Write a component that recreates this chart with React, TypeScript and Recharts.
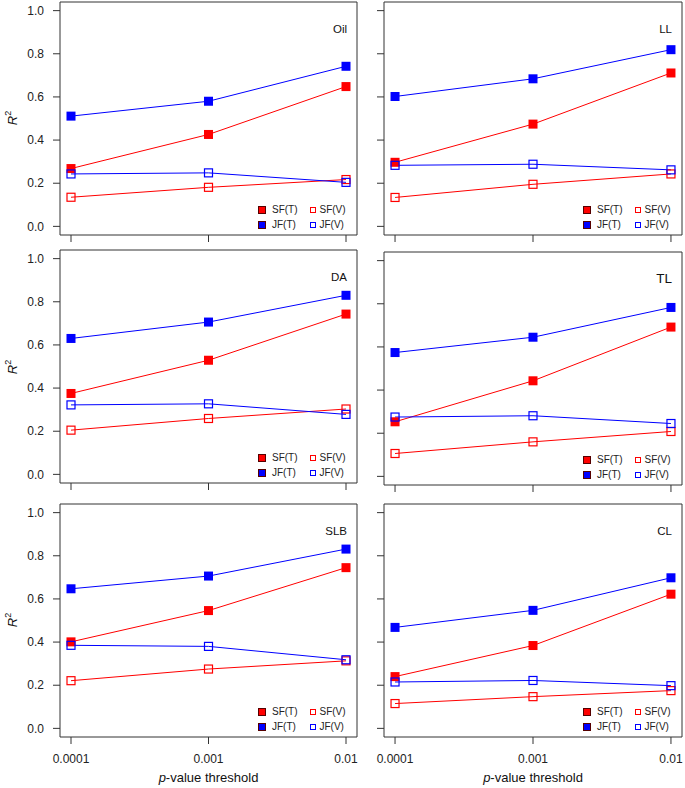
import React from 'react';
import { LineChart, Line, XAxis, YAxis, ReferenceArea } from 'recharts';

const thresholds = ['0.0001', '0.001', '0.01'];
const yTicks = [0, 0.2, 0.4, 0.6, 0.8, 1.0];
const seriesKeys = ['SF_T', 'JF_T', 'SF_V', 'JF_V'];
const seriesNames = ['SF(T)', 'JF(T)', 'SF(V)', 'JF(V)'];
const RED = '#ff0000';
const BLUE = '#0000ff';

const oilSFT = [0.268, 0.426, 0.648];
const oilJFT = [0.511, 0.58, 0.742];
const oilSFV = [0.135, 0.181, 0.217];
const oilJFV = [0.243, 0.248, 0.204];

const llSFT = [0.297, 0.474, 0.711];
const llJFT = [0.602, 0.684, 0.819];
const llSFV = [0.134, 0.195, 0.243];
const llJFV = [0.283, 0.288, 0.262];

const daSFT = [0.375, 0.529, 0.743];
const daJFT = [0.63, 0.706, 0.83];
const daSFV = [0.205, 0.259, 0.303];
const daJFV = [0.322, 0.327, 0.278];

const tlSFT = [0.253, 0.443, 0.692];
const tlJFT = [0.574, 0.645, 0.783];
const tlSFV = [0.106, 0.16, 0.208];
const tlJFV = [0.275, 0.281, 0.245];

const slbSFT = [0.401, 0.546, 0.745];
const slbJFT = [0.647, 0.706, 0.831];
const slbSFV = [0.221, 0.275, 0.313];
const slbJFV = [0.385, 0.38, 0.318];

const clSFT = [0.24, 0.384, 0.622];
const clJFT = [0.468, 0.547, 0.698];
const clSFV = [0.115, 0.147, 0.175];
const clJFV = [0.215, 0.222, 0.198];

const panelNames = ['Oil', 'LL', 'DA', 'TL', 'SLB', 'CL'];
const panelSeries = [
  [oilSFT, oilJFT, oilSFV, oilJFV],
  [llSFT, llJFT, llSFV, llJFV],
  [daSFT, daJFT, daSFV, daJFV],
  [tlSFT, tlJFT, tlSFV, tlJFV],
  [slbSFT, slbJFT, slbSFV, slbJFV],
  [clSFT, clJFT, clSFV, clJFV],
];

const FONT = '"Liberation Sans", Arial, Helvetica, sans-serif';
const PLOT_H = 233;
const rowY0 = [[1.5, 1.5], [250, 252], [503.5, 503.5]];
const colBox = [
  { x0: 60, x1: 357, chartLeft: 0, chartW: 370 },
  { x0: 384, x1: 682, chartLeft: 324, chartW: 361 },
];

const makeFilled = (color: string) => (props: any) => {
  const { cx, cy, index } = props;
  if (cx == null || cy == null) return <g key={index} />;
  return <rect key={index} x={cx - 4.5} y={cy - 4.5} width={9} height={9} fill={color} />;
};
const makeOpen = (color: string) => (props: any) => {
  const { cx, cy, index } = props;
  if (cx == null || cy == null) return <g key={index} />;
  return (
    <rect key={index} x={cx - 4} y={cy - 4} width={8} height={8} fill="none" stroke={color} strokeWidth={1.2} />
  );
};

const seriesColors = [RED, BLUE, RED, BLUE];
const seriesFilled = [true, true, false, false];

function Panel({ idx }: { idx: number }) {
  const row = Math.floor(idx / 2);
  const col = idx % 2;
  const box = colBox[col];
  const y0 = rowY0[row][col];
  const isBottom = row === 2;
  const xAxisH = isBottom ? 50 : 25;
  const height = 2 + PLOT_H + xAxisH;
  const top = y0 - 2;
  const s = panelSeries[idx];
  const data = thresholds.map((t, i) => ({
    x: i,
    SF_T: s[0][i],
    JF_T: s[1][i],
    SF_V: s[2][i],
    JF_V: s[3][i],
  }));
  const yAxisW = box.x0 - box.chartLeft;
  const rightMargin = box.chartW - (box.x1 - box.chartLeft);
  const R = box.x1;
  const B = y0 + PLOT_H;
  const legendRows = [
    [0, 2],
    [1, 3],
  ];
  return (
    <>
      <div style={{ position: 'absolute', left: box.chartLeft, top }}>
        <LineChart
          width={box.chartW}
          height={height}
          data={data}
          margin={{ top: 2, right: rightMargin, bottom: 0, left: 0 }}
        >
          <XAxis
            dataKey="x"
            type="number"
            domain={[-0.08, 2.08]}
            ticks={[0, 1, 2]}
            allowDataOverflow
            height={xAxisH}
            axisLine={false}
            tickSize={7}
            tickMargin={10}
            tickLine={{ stroke: '#333' }}
            tick={{ fill: '#222', fontSize: 12, fontFamily: FONT }}
            tickFormatter={(v: number) => (isBottom ? thresholds[v] : '')}
          />
          <YAxis
            type="number"
            domain={[-0.04, 1.04]}
            ticks={yTicks}
            allowDataOverflow
            width={yAxisW}
            axisLine={false}
            tickSize={7}
            tickMargin={9}
            tickLine={{ stroke: '#333' }}
            tick={{ fill: '#222', fontSize: 12, fontFamily: FONT }}
            tickFormatter={(v: number) => (col === 0 ? v.toFixed(1) : '')}
          />
          <ReferenceArea
            x1={-0.08}
            x2={2.08}
            y1={-0.04}
            y2={1.04}
            fill="none"
            fillOpacity={0}
            stroke="#333"
            strokeWidth={1}
            ifOverflow="visible"
          />
          {seriesKeys.map((k, si) => (
            <Line
              key={k}
              dataKey={k}
              name={seriesNames[si]}
              type="linear"
              stroke={seriesColors[si]}
              strokeWidth={1}
              dot={seriesFilled[si] ? makeFilled(seriesColors[si]) : makeOpen(seriesColors[si])}
              activeDot={false}
              isAnimationActive={false}
            />
          ))}
        </LineChart>
      </div>
      <div
        style={{
          position: 'absolute',
          right: 685 - (R - 10),
          top: y0 + 27,
          transform: 'translateY(-50%)',
          fontFamily: FONT,
          fontSize: panelNames[idx] === 'TL' ? 13.5 : 11.5,
          color: '#111',
          lineHeight: '14px',
          whiteSpace: 'nowrap',
        }}
      >
        {panelNames[idx]}
      </div>
      {legendRows.map((pair, ri) => {
        const cy = B - 25 + ri * 15;
        return (
          <React.Fragment key={ri}>
            <div
              style={{
                position: 'absolute',
                left: R - 95.5 - 4,
                top: cy - 4,
                width: 8,
                height: 8,
                boxSizing: 'border-box',
                background: seriesColors[pair[0]],
                border: '1px solid #500',
              }}
            />
            <div
              style={{
                position: 'absolute',
                left: R - 85,
                top: cy - 6,
                fontFamily: FONT,
                fontSize: 10,
                lineHeight: '12px',
                color: '#222',
                whiteSpace: 'nowrap',
              }}
            >
              {seriesNames[pair[0]]}
            </div>
            <div
              style={{
                position: 'absolute',
                left: R - 44.5 - 3,
                top: cy - 3,
                width: 6,
                height: 6,
                boxSizing: 'border-box',
                border: `1px solid ${seriesColors[pair[1]]}`,
              }}
            />
            <div
              style={{
                position: 'absolute',
                left: R - 37.5,
                top: cy - 6,
                fontFamily: FONT,
                fontSize: 10,
                lineHeight: '12px',
                color: '#222',
                whiteSpace: 'nowrap',
              }}
            >
              {seriesNames[pair[1]]}
            </div>
          </React.Fragment>
        );
      })}
      {col === 0 && (
        <div
          style={{
            position: 'absolute',
            left: 13,
            top: y0 + PLOT_H / 2,
            transform: 'translate(-50%, -50%) rotate(-90deg)',
            fontFamily: FONT,
            fontSize: 13,
            lineHeight: '14px',
            color: '#111',
            whiteSpace: 'nowrap',
          }}
        >
          <span style={{ fontStyle: 'italic' }}>R</span>
          <span style={{ fontSize: 9, position: 'relative', top: -6 }}>2</span>
        </div>
      )}
      {isBottom && (
        <div
          style={{
            position: 'absolute',
            left: (box.x0 + box.x1) / 2,
            top: 777,
            transform: 'translate(-50%, -50%)',
            fontFamily: FONT,
            fontSize: 13,
            lineHeight: '15px',
            color: '#111',
            whiteSpace: 'nowrap',
          }}
        >
          <span style={{ fontStyle: 'italic' }}>p</span>-value threshold
        </div>
      )}
    </>
  );
}

export default function App() {
  return (
    <div
      style={{
        position: 'absolute',
        left: 0,
        top: 0,
        width: 685,
        height: 788,
        background: '#fff',
        overflow: 'hidden',
      }}
    >
      {panelNames.map((n, i) => (
        <Panel key={n} idx={i} />
      ))}
    </div>
  );
}
